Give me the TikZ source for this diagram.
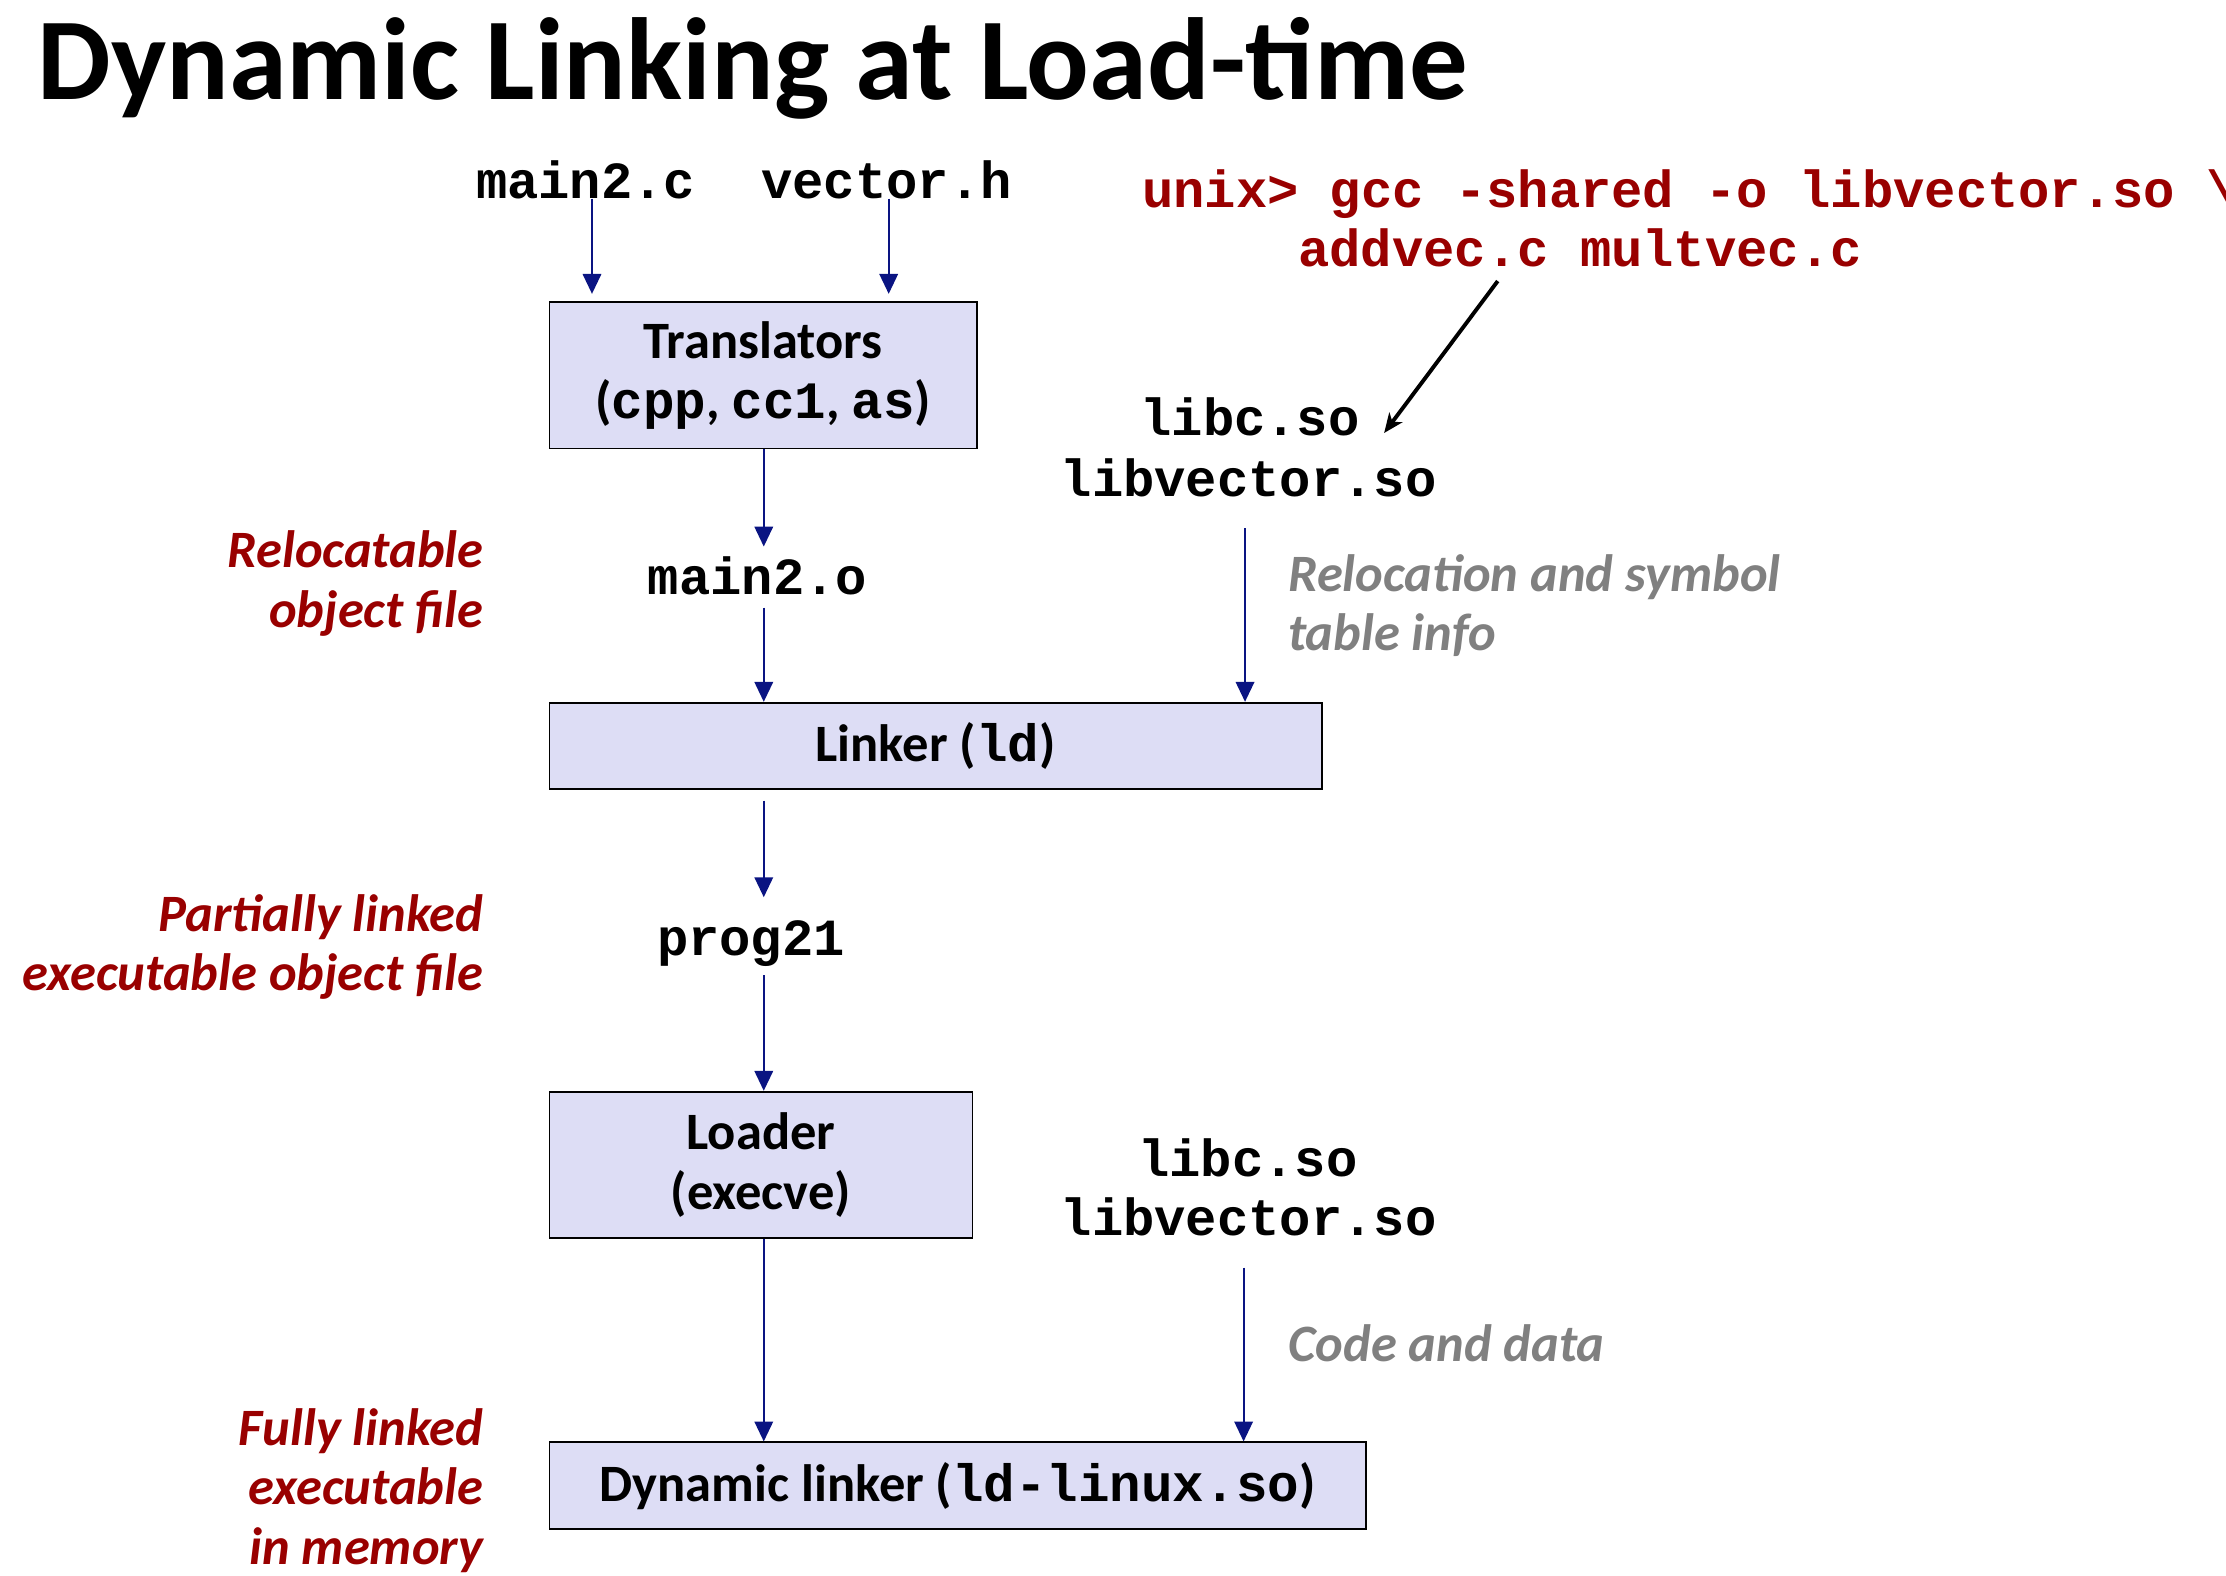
\documentclass[tikz,border=0pt]{standalone}
\usepackage{fontspec}
\setmainfont{Carlito}
\newfontfamily\cmono{Liberation Mono}
\usetikzlibrary{arrows.meta}
\definecolor{dred}{RGB}{153,0,0}
\definecolor{lgray}{RGB}{128,128,128}
\definecolor{navyc}{RGB}{10,20,130}
\definecolor{boxfill}{RGB}{221,221,245}
\newcommand{\bodyfont}{\fontsize{14.8}{17}\selectfont}
\newcommand{\monofont}{\fontsize{14.7}{17}\selectfont\cmono\bfseries}
\newcommand{\cm}[1]{{\cmono\bfseries #1}}
\begin{document}
\begin{tikzpicture}[x=0.4pt,y=-0.4pt,
  box/.style={draw=black, line width=0.5pt, fill=boxfill, align=center, inner sep=0pt, font=\bodyfont\bfseries},
  fname/.style={anchor=base, inner sep=0pt, font=\monofont},
  cmd/.style={anchor=base west, inner sep=0pt, font=\monofont, text=dred},
  lbl/.style={anchor=base east, inner sep=0pt, font=\bodyfont\bfseries\itshape, text=dred},
  note/.style={anchor=base west, inner sep=0pt, font=\bodyfont\bfseries\itshape, text=lgray},
  arr/.style={draw=navyc, line width=0.56pt, -{Triangle[width=5.2pt,length=5.6pt]}},
  blk/.style={draw=black, line width=1.1pt, -{Stealth[width=4.6pt,length=5.5pt,inset=1.6pt]}}]
\useasboundingbox (0,0) rectangle (1568,1110);

% title
\node[anchor=base west, inner sep=0pt, font=\fontsize{32.9}{36}\selectfont\bfseries] (title) at (26,70) {Dynamic Linking at Load-time};

% inputs
\node[fname] (mainc) at (412.5,140) {main2.c};
\node[fname] (vech) at (624.5,140) {vector.h};

% boxes
\node[box, minimum width=120.4pt, minimum height=41.2pt] (trans) at (537.5,264.5) {Translators\\(\cm{cpp}, \cm{cc1}, \cm{as})};
\node[box, minimum width=217.6pt, minimum height=24.4pt] (linker) at (659,525.5) {Linker (\cm{ld})};
\node[box, minimum width=119.2pt, minimum height=41.2pt] (loader) at (536,820.5) {Loader\\(execve)};
\node[box, minimum width=230pt, minimum height=24.4pt] (dyn) at (674.5,1046.5) {Dynamic linker (\cm{ld-linux.so})};

% intermediate files
\node[fname] (maino) at (533.5,419) {main2.o};
\node[fname] (prog) at (529,673) {prog21};

% shared libraries
\node[fname] (libc1) at (880.5,307) {libc.so};
\node[fname] (libv1) at (879.5,350) {libvector.so};
\node[fname] (libc2) at (879,829) {libc.so};
\node[fname] (libv2) at (879.5,870) {libvector.so};

% command
\node[cmd] (cmd1) at (804,146) {unix> gcc -shared -o libvector.so \textbackslash};
\node[cmd] (cmd2) at (914,188) {addvec.c multvec.c};

% left labels
\node[lbl] (rel1) at (341,400) {Relocatable};
\node[lbl] (rel2) at (341,442) {object file};
\node[lbl] (part1) at (341,656) {Partially linked};
\node[lbl] (part2) at (341,698) {executable object file};
\node[lbl] (full1) at (341,1018) {Fully linked};
\node[lbl] (full2) at (341,1060) {executable};
\node[lbl] (full3) at (341,1102) {in memory};

% gray notes
\node[note] (reloc1) at (907,417) {Relocation and symbol};
\node[note] (reloc2) at (907,458) {table info};
\node[note] (code) at (907,959) {Code and data};

% connector end points
\coordinate (a0) at (417,140);
\coordinate (a1) at (417,207);
\coordinate (b0) at (626,140);
\coordinate (b1) at (626,207);
\coordinate (c1) at (538,385);
\coordinate (d0) at (538,428);
\coordinate (e0) at (538,564);
\coordinate (e1) at (538,632);
\coordinate (f0) at (538,687);
\coordinate (h0) at (877,372);
\coordinate (i0) at (876,893);
\coordinate (k0) at (1055,198);
\coordinate (k1) at (975,305);

% connectors
\draw[arr] (a0) -- (a1);
\draw[arr] (b0) -- (b1);
\draw[arr] (trans.south -| c1) -- (c1);
\draw[arr] (d0) -- (d0 |- linker.north);
\draw[arr] (e0) -- (e1);
\draw[arr] (f0) -- (f0 |- loader.north);
\draw[arr] (loader.south -| f0) -- (f0 |- dyn.north);
\draw[arr] (h0) -- (h0 |- linker.north);
\draw[arr] (i0) -- (i0 |- dyn.north);
\draw[blk] (k0) -- (k1);
\end{tikzpicture}
\end{document}
